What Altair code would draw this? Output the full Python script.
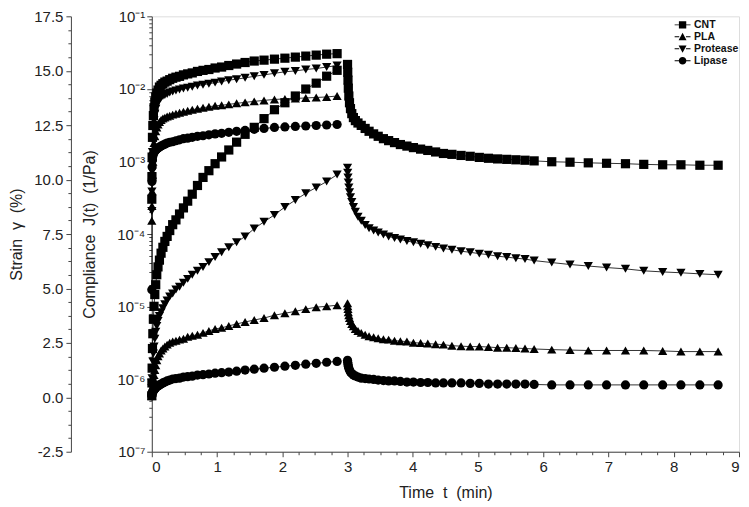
import altair as alt
import pandas as pd

materials = ["CNT", "PLA", "Protease", "Lipase"]

# creep-phase sampling times (min)
t_creep = [0, 0.002, 0.005, 0.01, 0.016, 0.024, 0.034, 0.046, 0.06, 0.076,
           0.095, 0.117, 0.142, 0.17, 0.2, 0.235, 0.275, 0.32, 0.37, 0.425,
           0.485, 0.55, 0.62, 0.7, 0.785, 0.875, 0.97, 1.07, 1.18, 1.3,
           1.43, 1.57, 1.72, 1.88, 2.04, 2.2, 2.36, 2.52, 2.68, 2.84]

# recovery-phase sampling times (min)
t_recovery = [3.0, 3.003, 3.007, 3.012, 3.02, 3.03, 3.045, 3.065, 3.09, 3.12,
              3.16, 3.21, 3.27, 3.33, 3.4, 3.47, 3.55, 3.63, 3.72, 3.81,
              3.91, 4.01, 4.12, 4.23, 4.35, 4.47, 4.6, 4.74, 4.88, 5.02,
              5.16, 5.3, 5.44, 5.58, 5.72, 5.86, 6.13, 6.41, 6.69, 6.97,
              7.26, 7.54, 7.83, 8.11, 8.4, 8.68]

# compliance J(t) (1/Pa) during creep
comp_cnt = [3.02e-4, 6.18e-4, 1.15e-3, 2.15e-3, 3.13e-3, 4.28e-3, 5.50e-3, 6.62e-3, 7.74e-3, 8.77e-3,
            9.63e-3, 1.06e-2, 1.12e-2, 1.18e-2, 1.24e-2, 1.28e-2, 1.34e-2, 1.40e-2, 1.45e-2, 1.49e-2,
            1.56e-2, 1.61e-2, 1.66e-2, 1.74e-2, 1.80e-2, 1.85e-2, 1.94e-2, 2.00e-2, 2.10e-2, 2.20e-2,
            2.31e-2, 2.42e-2, 2.49e-2, 2.57e-2, 2.65e-2, 2.74e-2, 2.83e-2, 2.92e-2, 3.01e-2, 3.06e-2]
comp_pla = [1.52e-4, 2.43e-4, 3.87e-4, 6.58e-4, 9.88e-4, 1.39e-3, 1.79e-3, 2.22e-3, 2.60e-3, 2.94e-3,
            3.23e-3, 3.49e-3, 3.72e-3, 3.90e-3, 4.02e-3, 4.15e-3, 4.28e-3, 4.42e-3, 4.56e-3, 4.70e-3,
            4.85e-3, 5.00e-3, 5.16e-3, 5.32e-3, 5.50e-3, 5.67e-3, 5.85e-3, 5.94e-3, 6.12e-3, 6.32e-3,
            6.52e-3, 6.73e-3, 6.94e-3, 7.16e-3, 7.27e-3, 7.39e-3, 7.50e-3, 7.62e-3, 7.74e-3, 7.98e-3]
comp_protease = [2.07e-4, 3.87e-4, 7.23e-4, 1.35e-3, 2.02e-3, 2.85e-3, 3.66e-3, 4.56e-3, 5.32e-3, 6.03e-3,
                 6.62e-3, 7.16e-3, 7.62e-3, 7.98e-3, 8.24e-3, 8.51e-3, 8.91e-3, 9.19e-3, 9.48e-3, 9.79e-3,
                 1.01e-2, 1.04e-2, 1.07e-2, 1.11e-2, 1.14e-2, 1.18e-2, 1.22e-2, 1.26e-2, 1.32e-2, 1.36e-2,
                 1.42e-2, 1.49e-2, 1.56e-2, 1.64e-2, 1.72e-2, 1.77e-2, 1.85e-2, 1.91e-2, 2.00e-2, 2.10e-2]
comp_lipase = [1.71e-5, 5.29e-4, 8.45e-4, 1.05e-3, 1.19e-3, 1.27e-3, 1.33e-3, 1.39e-3, 1.44e-3, 1.48e-3,
               1.53e-3, 1.58e-3, 1.63e-3, 1.68e-3, 1.73e-3, 1.79e-3, 1.84e-3, 1.87e-3, 1.93e-3, 1.99e-3,
               2.06e-3, 2.09e-3, 2.15e-3, 2.22e-3, 2.26e-3, 2.33e-3, 2.40e-3, 2.44e-3, 2.52e-3, 2.60e-3,
               2.68e-3, 2.77e-3, 2.85e-3, 2.94e-3, 2.99e-3, 3.04e-3, 3.08e-3, 3.13e-3, 3.18e-3, 3.23e-3]

# strain (%) during creep
strain_creep_cnt = [0.07, 0.66, 1.34, 2.24, 2.92, 3.59, 4.18, 4.72, 5.17, 5.63,
                    5.99, 6.30, 6.62, 6.89, 7.16, 7.39, 7.66, 7.93, 8.15, 8.42,
                    8.70, 9.01, 9.33, 9.73, 10.10, 10.41, 10.73, 11.04, 11.36, 11.72,
                    12.08, 12.40, 12.80, 13.21, 13.53, 13.84, 14.16, 14.43, 14.75, 15.02]
strain_creep_pla = [0.07, 0.21, 0.34, 0.48, 0.66, 0.84, 1.02, 1.25, 1.47, 1.70,
                    1.88, 2.01, 2.15, 2.24, 2.33, 2.42, 2.51, 2.56, 2.60, 2.65,
                    2.69, 2.78, 2.83, 2.87, 2.96, 3.05, 3.14, 3.19, 3.28, 3.37,
                    3.46, 3.55, 3.64, 3.77, 3.86, 3.95, 4.05, 4.14, 4.18, 4.23]
strain_creep_protease = [0.07, 0.43, 0.88, 1.34, 1.65, 2.01, 2.33, 2.69, 3.01, 3.28,
                         3.50, 3.73, 3.91, 4.09, 4.27, 4.45, 4.63, 4.77, 4.95, 5.08,
                         5.26, 5.44, 5.63, 5.81, 5.99, 6.21, 6.44, 6.66, 6.89, 7.12,
                         7.39, 7.75, 8.06, 8.38, 8.74, 9.06, 9.37, 9.64, 9.91, 10.23]
strain_creep_lipase = [0.07, 0.12, 0.16, 0.21, 0.25, 0.30, 0.34, 0.39, 0.43, 0.48,
                       0.52, 0.57, 0.61, 0.66, 0.70, 0.75, 0.79, 0.84, 0.86, 0.88,
                       0.93, 0.95, 0.97, 1.02, 1.04, 1.07, 1.11, 1.13, 1.16, 1.20,
                       1.25, 1.29, 1.34, 1.38, 1.43, 1.47, 1.52, 1.56, 1.61, 1.65]

# strain (%) during recovery
strain_rec_cnt = [15.29, 14.93, 14.57, 14.20, 13.84, 13.53, 13.26, 13.03, 12.85, 12.71,
                  12.60, 12.49, 12.35, 12.22, 12.10, 11.99, 11.88, 11.79, 11.70, 11.61,
                  11.54, 11.47, 11.40, 11.34, 11.27, 11.20, 11.16, 11.11, 11.07, 11.02,
                  10.98, 10.95, 10.93, 10.91, 10.89, 10.86, 10.82, 10.80, 10.77, 10.75,
                  10.73, 10.70, 10.68, 10.68, 10.66, 10.66]
strain_rec_pla = [4.32, 4.18, 4.05, 3.91, 3.77, 3.64, 3.50, 3.37, 3.26, 3.14,
                  3.05, 2.96, 2.87, 2.80, 2.76, 2.71, 2.67, 2.65, 2.60, 2.58,
                  2.56, 2.51, 2.49, 2.47, 2.44, 2.42, 2.37, 2.35, 2.33, 2.33,
                  2.31, 2.28, 2.28, 2.26, 2.24, 2.22, 2.19, 2.17, 2.15, 2.15,
                  2.15, 2.15, 2.13, 2.10, 2.10, 2.10]
strain_rec_protease = [10.55, 10.32, 10.10, 9.87, 9.64, 9.42, 9.19, 8.97, 8.74, 8.52,
                       8.29, 8.11, 7.91, 7.77, 7.66, 7.57, 7.48, 7.39, 7.32, 7.25,
                       7.18, 7.12, 7.05, 6.98, 6.91, 6.84, 6.78, 6.71, 6.66, 6.60,
                       6.55, 6.48, 6.44, 6.39, 6.35, 6.28, 6.19, 6.10, 6.03, 5.96,
                       5.90, 5.81, 5.76, 5.72, 5.67, 5.63]
strain_rec_lipase = [1.70, 1.61, 1.52, 1.43, 1.34, 1.25, 1.16, 1.09, 1.02, 0.98,
                     0.93, 0.88, 0.86, 0.84, 0.82, 0.79, 0.77, 0.75, 0.75, 0.73,
                     0.70, 0.70, 0.68, 0.68, 0.66, 0.66, 0.66, 0.66, 0.64, 0.64,
                     0.61, 0.61, 0.61, 0.61, 0.61, 0.59, 0.57, 0.57, 0.57, 0.57,
                     0.57, 0.57, 0.57, 0.57, 0.57, 0.57]

# tick labels / positions
x_major = list(range(10))
x_minor = [round(i * 0.25, 2) for i in range(37) if i % 4]
strain_major = [-2.5, 0.0, 2.5, 5.0, 7.5, 10.0, 12.5, 15.0, 17.5]
strain_minor = [round(-2.5 + i * 0.625, 3) for i in range(33) if i % 4]
comp_major = [1e-7, 1e-6, 1e-5, 1e-4, 1e-3, 1e-2, 1e-1]
comp_minor = [k * 10.0 ** e for e in range(-7, -1) for k in range(2, 10)]
sup_labels = ["⁻⁷", "⁻⁶", "⁻⁵", "⁻⁴", "⁻³", "⁻²", "⁻¹"]

# ---- tables ----
rows_c = []
for m, vals in zip(materials, [comp_cnt, comp_pla, comp_protease, comp_lipase]):
    for t, v in zip(t_creep, vals):
        rows_c.append({"t": t, "J": v, "material": m})
comp_df = pd.DataFrame(rows_c)

rows_s = []
for m, cr, rc in zip(materials,
                     [strain_creep_cnt, strain_creep_pla, strain_creep_protease, strain_creep_lipase],
                     [strain_rec_cnt, strain_rec_pla, strain_rec_protease, strain_rec_lipase]):
    for t, v in zip(t_creep, cr):
        rows_s.append({"t": t, "s": v, "material": m, "series": m + "_creep"})
    for t, v in zip(t_recovery, rc):
        rows_s.append({"t": t, "s": v, "material": m, "series": m + "_rec"})
strain_df = pd.DataFrame(rows_s)

FONT = "Liberation Sans"
AX = "#444444"
NB = "\u00a0"

xs = alt.Scale(domain=[0, 9], nice=False, zero=False)
ys_c = alt.Scale(type="log", domain=[1e-7, 1e-1], nice=False)
ys_s = alt.Scale(domain=[-2.5, 17.5], nice=False, zero=False)
shape_scale = alt.Scale(domain=materials, range=["square", "triangle-up", "triangle-down", "circle"])

# legend glyphs: marker with a short line through it
stub = "M-1.3,-0.07H-0.55V0.07H-1.3Z M0.55,-0.07H1.3V0.07H0.55Z "
legend_shapes = [
    stub + "M-0.6,-0.6H0.6V0.6H-0.6Z",
    stub + "M0,-0.65L0.65,0.55H-0.65Z",
    stub + "M0,0.65L-0.65,-0.55H0.65Z",
    stub + "M-0.62,0A0.62,0.62 0 1,1 0.62,0A0.62,0.62 0 1,1 -0.62,0Z",
]
legend_scale = alt.Scale(domain=materials, range=legend_shapes)

legend = alt.Legend(title=None, orient="none", legendX=525, legendY=2,
                    labelFontSize=10.5, labelFontWeight="bold", labelFont=FONT,
                    labelColor="#111", symbolSize=150, rowPadding=0, labelOffset=5,
                    symbolFillColor="black", symbolStrokeColor="black",
                    symbolStrokeWidth=0, symbolOpacity=1)

axis_x_major = alt.Axis(values=x_major, orient="bottom", format="d", tickSize=5, labelPadding=3,
                        title="Time" + NB + NB + "t" + NB + NB + "(min)", titlePadding=10, grid=False,
                        domainColor=AX, tickColor=AX, labelFontSize=15, titleFontSize=16,
                        titleFontWeight="normal", labelColor="#222", titleColor="#222",
                        labelFont=FONT, titleFont=FONT)
axis_x_minor = alt.Axis(values=x_minor, orient="bottom", tickSize=3, labels=False, domain=False,
                        title=None, grid=False, tickColor=AX)

axis_c_major = alt.Axis(values=comp_major, orient="left", tickSize=5, labelPadding=2,
                        labelExpr="'10' + " + str(sup_labels).replace('"', "'") +
                        "[round(log(datum.value)/LN10) + 7]",
                        title="Compliance" + NB + NB + "J(t)" + NB + NB + "(1/Pa)",
                        titleX=-62, titleBaseline="middle",
                        grid=False, domainColor=AX, tickColor=AX, labelFontSize=15,
                        titleFontSize=16, titleFontWeight="normal", labelColor="#222",
                        titleColor="#222", labelFont=FONT, titleFont=FONT)
axis_c_minor = alt.Axis(values=comp_minor, orient="left", tickSize=3, labels=False,
                        domain=False, title=None, grid=False, tickColor=AX)

axis_s_major = alt.Axis(values=strain_major, orient="left", offset=81, tickSize=5,
                        labelPadding=3, labelExpr="replace(format(datum.value, '.1f'), '−', '-')",
                        title="Strain" + NB + NB + "γ" + NB + NB + "(%)", titleX=-54,
                        titleBaseline="middle", grid=False, domainColor=AX, tickColor=AX,
                        labelFontSize=15, titleFontSize=16, titleFontWeight="normal",
                        labelColor="#222", titleColor="#222", labelFont=FONT, titleFont=FONT)
axis_s_minor = alt.Axis(values=strain_minor, orient="left", offset=81, tickSize=3,
                        labels=False, domain=False, title=None, grid=False, tickColor=AX)

base_c = alt.Chart(comp_df)
base_s = alt.Chart(strain_df)

c_line = base_c.mark_line(color="black", strokeWidth=0.8).encode(
    x=alt.X("t:Q", scale=xs, axis=axis_x_major),
    y=alt.Y("J:Q", scale=ys_c, axis=axis_c_major),
    detail="material:N")
# invisible layer carrying minor ticks and the legend
c_minor = base_c.mark_point(opacity=0, filled=True, color="black").encode(
    x=alt.X("t:Q", scale=xs, axis=axis_x_minor),
    y=alt.Y("J:Q", scale=ys_c, axis=axis_c_minor),
    shape=alt.Shape("material:N", scale=legend_scale, legend=legend))
s_minor = base_s.mark_point(opacity=0).encode(
    x=alt.X("t:Q", scale=xs, axis=None),
    y=alt.Y("s:Q", scale=ys_s, axis=axis_s_minor))
s_line = base_s.mark_line(color="black", strokeWidth=0.8).encode(
    x=alt.X("t:Q", scale=xs, axis=None),
    y=alt.Y("s:Q", scale=ys_s, axis=axis_s_major),
    detail="series:N")

c_pts = base_c.mark_point(filled=True, color="black", opacity=1, size=85).encode(
    x=alt.X("t:Q", scale=xs, axis=None),
    y=alt.Y("J:Q", scale=ys_c, axis=None),
    shape=alt.Shape("material:N", scale=shape_scale, legend=None))
s_pts = base_s.mark_point(filled=True, color="black", opacity=1, size=85).encode(
    x=alt.X("t:Q", scale=xs, axis=None),
    y=alt.Y("s:Q", scale=ys_s, axis=None),
    shape=alt.Shape("material:N", scale=shape_scale, legend=None))

chart = alt.layer(c_line, c_minor, s_minor, s_line, c_pts, s_pts).resolve_scale(
    y="independent", shape="independent").resolve_axis(x="independent").properties(
    width=588, height=436, autosize="none",
    padding={"left": 144, "top": 8, "right": 2, "bottom": 50},
    background="white"
).configure_view(stroke=AX, strokeWidth=1).configure(font=FONT)

chart.save("out.html", embed_options={"renderer": "svg", "actions": False})
